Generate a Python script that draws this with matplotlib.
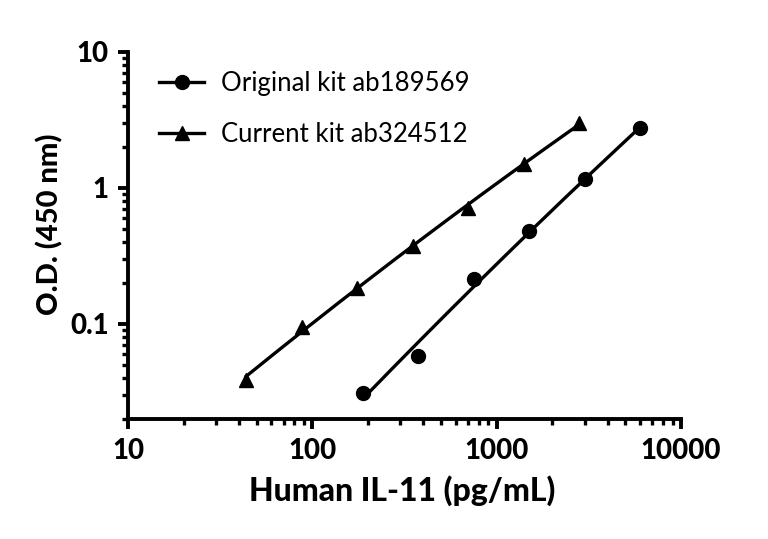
import numpy as np
import matplotlib
matplotlib.use("Agg")
import matplotlib.pyplot as plt
from matplotlib.ticker import LogLocator, FixedLocator, FuncFormatter, NullFormatter

# --- data ---
orig_x = [187.5, 375, 750, 1500, 3000, 6000]
orig_y = [0.031, 0.058, 0.215, 0.48, 1.16, 2.74]
curr_x = [43.75, 87.5, 175, 350, 700, 1400, 2800]
curr_y = [0.039, 0.095, 0.185, 0.375, 0.71, 1.5, 3.0]

plt.rcParams['font.family'] = ['Lato', 'DejaVu Sans']

fig = plt.figure(figsize=(7.68, 5.39), dpi=100)
ax = fig.add_axes([0.1667, 0.2226, 0.72, 0.681])


def fit_line(x, y):
    # smooth fitted curve in log-log space (quadratic)
    lx, ly = np.log10(x), np.log10(y)
    c = np.polyfit(lx, ly, 2)
    xs = np.linspace(lx.min(), lx.max(), 200)
    return 10 ** xs, 10 ** np.polyval(c, xs)


fx, fy = fit_line(np.array(orig_x), np.array(orig_y))
ax.plot(fx, fy, color="black", lw=2.4)
ax.plot(orig_x, orig_y, "o", color="black", ms=10)
fx, fy = fit_line(np.array(curr_x), np.array(curr_y))
ax.plot(fx, fy, color="black", lw=2.4)
ax.plot(curr_x, curr_y, "^", color="black", ms=10)

# legend handles
ax.plot([], [], "o-", color="black", lw=2.4, ms=10, label="Original kit ab189569")
ax.plot([], [], "^-", color="black", lw=2.4, ms=10, label="Current kit ab324512")
h, l = ax.get_legend_handles_labels()
ax.legend(h[-2:], l[-2:], loc="upper left", bbox_to_anchor=(0.015, 1.01), frameon=False,
          fontsize=18.5, handlelength=1.75, handletextpad=0.65, labelspacing=1.0)

ax.set_xscale("log")
ax.set_yscale("log")
ax.set_xlim(10, 10000)
ax.set_ylim(0.02, 10)

ax.xaxis.set_major_locator(FixedLocator([10, 100, 1000, 10000]))
ax.xaxis.set_minor_locator(LogLocator(base=10, subs=np.arange(2, 10)))
ax.yaxis.set_major_locator(FixedLocator([0.1, 1, 10]))
ax.yaxis.set_minor_locator(LogLocator(base=10, subs=np.arange(2, 10)))
ax.xaxis.set_major_formatter(FuncFormatter(lambda v, p: f"{v:g}"))
ax.yaxis.set_major_formatter(FuncFormatter(lambda v, p: f"{v:g}"))
ax.xaxis.set_minor_formatter(NullFormatter())
ax.yaxis.set_minor_formatter(NullFormatter())

for s in ["top", "right"]:
    ax.spines[s].set_visible(False)
for s in ["left", "bottom"]:
    ax.spines[s].set_linewidth(2.8)

ax.tick_params(which="major", length=7, width=2.8, labelsize=20, pad=7)
ax.tick_params(which="minor", length=4, width=2.4)
for t in ax.get_xticklabels() + ax.get_yticklabels():
    t.set_fontweight("black")

ax.set_xlabel("Human IL-11 (pg/mL)", fontsize=23, fontweight="black")
ax.set_ylabel("O.D. (450 nm)", fontsize=21, fontweight="black")
ax.xaxis.set_label_coords(0.496, -0.152)
ax.yaxis.set_label_coords(-0.117, 0.53)

fig.savefig("out.png", dpi=100)
